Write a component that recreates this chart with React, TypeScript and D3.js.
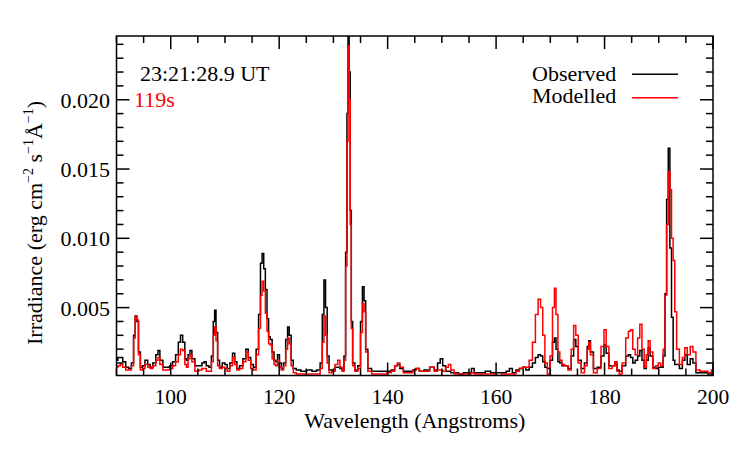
import React from "react";
import * as d3 from "d3";

// Wavelength grid (Angstroms) and irradiance values (erg cm^-2 s^-1 Å^-1)
const wavelength = [
  90.0, 90.5, 90.9, 91.4, 92.0, 92.5, 93.0, 93.3, 93.6, 93.9, 94.2, 94.6, 95.0, 95.5, 96.0, 96.4,
  97.0, 97.5, 97.8, 98.2, 98.9, 99.5, 100.1, 100.6, 101.2, 101.6, 102.0, 102.4, 102.8, 103.0, 103.4, 103.7,
  104.1, 104.8, 105.5, 106.0, 106.3, 106.8, 107.3, 107.7, 108.0, 108.2, 108.5, 108.8, 109.2, 109.8, 110.2, 110.6,
  111.2, 111.6, 112.0, 112.4, 113.0, 113.6, 114.1, 114.5, 115.0, 115.5, 116.0, 116.4, 116.7, 117.0, 117.3, 117.6,
  117.9, 118.2, 118.5, 118.9, 119.2, 119.5, 119.9, 120.2, 120.6, 121.0, 121.4, 121.7, 122.0, 122.4, 122.8, 123.5,
  124.5, 125.6, 126.5, 127.3, 127.8, 128.1, 128.4, 128.7, 129.0, 129.4, 130.0, 130.6, 131.0, 131.4, 131.8, 132.1,
  132.4, 132.6, 132.8, 133.0, 133.2, 133.4, 133.7, 134.2, 134.8, 135.2, 135.5, 135.8, 136.1, 136.6, 137.5, 138.5,
  139.5, 140.3, 141.0, 141.6, 142.0, 142.5, 143.3, 144.3, 145.0, 145.5, 146.2, 147.2, 148.3, 148.9, 149.5, 149.9,
  150.4, 151.0, 151.4, 151.9, 152.6, 153.5, 154.5, 155.2, 155.7, 156.2, 157.5, 158.5, 159.5, 160.6, 161.5, 162.2,
  162.7, 163.3, 164.0, 164.6, 165.2, 165.8, 166.4, 167.0, 167.5, 168.0, 168.4, 168.8, 169.2, 169.7, 170.2, 170.6,
  170.9, 171.2, 171.6, 171.9, 172.4, 172.9, 173.6, 174.1, 174.5, 174.9, 175.4, 176.0, 176.6, 177.0, 177.2, 177.6,
  178.3, 179.0, 179.7, 180.1, 180.5, 181.1, 181.7, 182.1, 182.5, 182.9, 183.6, 184.2, 184.6, 185.0, 185.4, 185.9,
  186.3, 186.7, 187.1, 187.5, 187.9, 188.2, 188.6, 189.2, 189.7, 190.1, 190.6, 191.0, 191.3, 191.6, 191.9, 192.2,
  192.5, 192.8, 193.1, 193.5, 194.1, 194.6, 195.0, 195.5, 196.1, 196.5, 197.2, 198.0, 198.7, 199.4, 200.0,
];

const observed = [
  0.0012, 0.0014, 0.0014, 0.0011, 0.0007, 0.0006, 0.0010, 0.0030, 0.0044, 0.0040, 0.0018, 0.0007, 0.0008, 0.0012, 0.0009, 0.0007,
  0.0010, 0.0016, 0.0019, 0.0012, 0.0007, 0.0007, 0.0008, 0.0011, 0.0016, 0.0025, 0.0030, 0.0025, 0.0013, 0.0012, 0.0016, 0.0019,
  0.0013, 0.0008, 0.0008, 0.0010, 0.0011, 0.0008, 0.0007, 0.0015, 0.0040, 0.0048, 0.0032, 0.0012, 0.0007, 0.0010, 0.0009, 0.0006,
  0.0010, 0.0017, 0.0011, 0.0006, 0.0008, 0.0013, 0.0020, 0.0014, 0.0009, 0.0007, 0.0020, 0.0045, 0.0082, 0.0089, 0.0078, 0.0063,
  0.0042, 0.0029, 0.0027, 0.0018, 0.0012, 0.0011, 0.0016, 0.0010, 0.0006, 0.0010, 0.0027, 0.0036, 0.0030, 0.0012, 0.0006, 0.0005,
  0.0004, 0.0005, 0.0004, 0.0005, 0.0010, 0.0045, 0.0070, 0.0050, 0.0015, 0.0005, 0.0005, 0.0007, 0.0007, 0.0006, 0.0005, 0.0015,
  0.0090, 0.0190, 0.0280, 0.0220, 0.0120, 0.0040, 0.0010, 0.0005, 0.0008, 0.0040, 0.0065, 0.0055, 0.0020, 0.0006, 0.0004, 0.0004,
  0.0004, 0.0004, 0.0005, 0.0008, 0.0009, 0.0006, 0.0004, 0.0004, 0.0005, 0.0006, 0.0004, 0.0005, 0.0007, 0.0005, 0.0010, 0.0013,
  0.0008, 0.0004, 0.0004, 0.0003, 0.0003, 0.0002, 0.0003, 0.0003, 0.0006, 0.0003, 0.0003, 0.0004, 0.0003, 0.0003, 0.0003, 0.0004,
  0.0006, 0.0003, 0.0005, 0.0006, 0.0007, 0.0005, 0.0007, 0.0010, 0.0014, 0.0016, 0.0015, 0.0011, 0.0007, 0.0006, 0.0012, 0.0025,
  0.0028, 0.0020, 0.0011, 0.0010, 0.0008, 0.0008, 0.0006, 0.0015, 0.0027, 0.0022, 0.0012, 0.0006, 0.0010, 0.0022, 0.0026, 0.0018,
  0.0006, 0.0007, 0.0015, 0.0023, 0.0017, 0.0008, 0.0008, 0.0010, 0.0005, 0.0004, 0.0008, 0.0015, 0.0016, 0.0014, 0.0010, 0.0012,
  0.0015, 0.0019, 0.0012, 0.0006, 0.0012, 0.0021, 0.0015, 0.0007, 0.0006, 0.0007, 0.0007, 0.0015, 0.0060, 0.0128, 0.0165, 0.0093,
  0.0043, 0.0012, 0.0009, 0.0009, 0.0006, 0.0012, 0.0016, 0.0009, 0.0013, 0.0010, 0.0003, 0.0003, 0.0003, 0.0002, 0.0003,
];

const modelled = [
  0.0007, 0.0008, 0.0009, 0.0007, 0.0005, 0.0005, 0.0008, 0.0028, 0.0044, 0.0041, 0.0016, 0.0005, 0.0006, 0.0009, 0.0007, 0.0006,
  0.0008, 0.0012, 0.0014, 0.0009, 0.0005, 0.0005, 0.0006, 0.0008, 0.0011, 0.0016, 0.0020, 0.0019, 0.0009, 0.0007, 0.0013, 0.0016,
  0.0011, 0.0004, 0.0005, 0.0006, 0.0006, 0.0004, 0.0004, 0.0011, 0.0030, 0.0036, 0.0026, 0.0008, 0.0006, 0.0007, 0.0006, 0.0004,
  0.0008, 0.0014, 0.0009, 0.0005, 0.0006, 0.0011, 0.0018, 0.0012, 0.0006, 0.0005, 0.0016, 0.0035, 0.0059, 0.0069, 0.0062, 0.0046,
  0.0033, 0.0024, 0.0023, 0.0013, 0.0009, 0.0008, 0.0012, 0.0007, 0.0005, 0.0008, 0.0020, 0.0028, 0.0024, 0.0008, 0.0003, 0.0002,
  0.0002, 0.0002, 0.0002, 0.0002, 0.0006, 0.0025, 0.0044, 0.0030, 0.0010, 0.0003, 0.0004, 0.0009, 0.0012, 0.0007, 0.0004, 0.0012,
  0.0080, 0.0170, 0.0239, 0.0200, 0.0110, 0.0035, 0.0008, 0.0004, 0.0006, 0.0032, 0.0053, 0.0047, 0.0018, 0.0004, 0.0002, 0.0002,
  0.0002, 0.0003, 0.0004, 0.0008, 0.0010, 0.0007, 0.0003, 0.0003, 0.0005, 0.0006, 0.0004, 0.0004, 0.0007, 0.0004, 0.0005, 0.0005,
  0.0004, 0.0007, 0.0009, 0.0005, 0.0002, 0.0002, 0.0002, 0.0002, 0.0003, 0.0002, 0.0002, 0.0002, 0.0002, 0.0001, 0.0002, 0.0002,
  0.0002, 0.0002, 0.0004, 0.0006, 0.0007, 0.0007, 0.0012, 0.0025, 0.0045, 0.0056, 0.0050, 0.0030, 0.0010, 0.0002, 0.0015, 0.0050,
  0.0064, 0.0045, 0.0018, 0.0012, 0.0009, 0.0008, 0.0005, 0.0020, 0.0037, 0.0030, 0.0010, 0.0003, 0.0008, 0.0020, 0.0025, 0.0016,
  0.0003, 0.0006, 0.0022, 0.0034, 0.0022, 0.0006, 0.0008, 0.0011, 0.0004, 0.0002, 0.0010, 0.0028, 0.0033, 0.0034, 0.0020, 0.0016,
  0.0028, 0.0038, 0.0020, 0.0007, 0.0016, 0.0026, 0.0018, 0.0006, 0.0008, 0.0010, 0.0008, 0.0020, 0.0059, 0.0110, 0.0148, 0.0135,
  0.0100, 0.0084, 0.0047, 0.0020, 0.0009, 0.0014, 0.0021, 0.0016, 0.0022, 0.0018, 0.0005, 0.0004, 0.0004, 0.0003, 0.0005,
];

const xMajorTicks = [100, 120, 140, 160, 180, 200];
const yMajorTicks = [0.005, 0.01, 0.015, 0.02];
const seriesNames = ["Observed", "Modelled"];
const seriesColors = ["#000000", "#ff0000"];
const timeLabel = "23:21:28.9 UT";
const durationLabel = "119s";

const W = 747;
const H = 449;
const L = 116.5, R = 713, T = 36, B = 375.5;
const FONT = "'Liberation Serif', 'Times New Roman', Times, serif";

export default function App() {
  const x = d3.scaleLinear().domain([90, 200]).range([L, R]);
  const y = d3.scaleLinear().domain([0.0001, 0.0246]).range([B, T]);

  const xMinor = d3.range(90, 200.01, 5).filter((v) => !xMajorTicks.includes(v));
  const yMinor = d3.range(1, 25).map((i) => i * 0.001).filter((v) => y(v) > T + 1 && Math.abs(v * 200 - Math.round(v * 200)) > 1e-6);

  const line = d3
    .line<number>()
    .x((_, i) => x(wavelength[i]))
    .y((d) => y(d))
    .curve(d3.curveStep);

  const series = [observed, modelled];
  const fmt = d3.format(".3f");
  const MAJ = 13, MIN = 7;

  return (
    <svg
      width={W}
      height={H}
      style={{ position: "absolute", left: 0, top: 0, background: "#fff" }}
      fontFamily={FONT}
    >
      <rect x={0} y={0} width={W} height={H} fill="#fff" />
      <defs>
        <clipPath id="plotclip">
          <rect x={L} y={T} width={R - L} height={B - T} />
        </clipPath>
      </defs>

      <g clipPath="url(#plotclip)">
        {series.map((s, k) => (
          <path key={k} d={line(s) || ""} fill="none" stroke={seriesColors[k]} strokeWidth={1.5} strokeLinejoin="miter" />
        ))}
      </g>

      {/* frame */}
      <rect x={L} y={T} width={R - L} height={B - T} fill="none" stroke="#000" strokeWidth={1.5} />

      {/* x ticks */}
      {xMajorTicks.map((v) => (
        <g key={"xm" + v}>
          <line x1={x(v)} x2={x(v)} y1={B} y2={B - MAJ} stroke="#000" strokeWidth={1.5} />
          <line x1={x(v)} x2={x(v)} y1={T} y2={T + MAJ} stroke="#000" strokeWidth={1.5} />
          <text x={x(v)} y={403.5} textAnchor="middle" fontSize={21.5}>
            {v}
          </text>
        </g>
      ))}
      {xMinor.map((v) => (
        <g key={"xn" + v}>
          <line x1={x(v)} x2={x(v)} y1={B} y2={B - MIN} stroke="#000" strokeWidth={1.5} />
          <line x1={x(v)} x2={x(v)} y1={T} y2={T + MIN} stroke="#000" strokeWidth={1.5} />
        </g>
      ))}

      {/* y ticks */}
      {yMajorTicks.map((v) => (
        <g key={"ym" + v}>
          <line x1={L} x2={L + MAJ} y1={y(v)} y2={y(v)} stroke="#000" strokeWidth={1.5} />
          <line x1={R} x2={R - MAJ} y1={y(v)} y2={y(v)} stroke="#000" strokeWidth={1.5} />
          <text x={110} y={y(v) + 8} textAnchor="end" fontSize={22}>
            {fmt(v)}
          </text>
        </g>
      ))}
      {yMinor.map((v) => (
        <g key={"yn" + v}>
          <line x1={L} x2={L + MIN} y1={y(v)} y2={y(v)} stroke="#000" strokeWidth={1.5} />
          <line x1={R} x2={R - MIN} y1={y(v)} y2={y(v)} stroke="#000" strokeWidth={1.5} />
        </g>
      ))}

      {/* axis titles */}
      <text x={(L + R) / 2} y={428} textAnchor="middle" fontSize={22}>
        Wavelength (Angstroms)
      </text>
      <text transform="translate(42,223) rotate(-90)" textAnchor="middle" fontSize={22}>
        Irradiance (erg cm
        <tspan fontSize={14} dy={-9}>−2</tspan>
        <tspan dy={9}> s</tspan>
        <tspan fontSize={14} dy={-9}>−1</tspan>
        <tspan dy={9}>Å</tspan>
        <tspan fontSize={14} dy={-9}>−1</tspan>
        <tspan dy={9}>)</tspan>
      </text>

      {/* annotations */}
      <text x={140} y={80.7} fontSize={22} fill="#000">
        {timeLabel}
      </text>
      <text x={134} y={107} fontSize={22} fill="#ff0000">
        {durationLabel}
      </text>

      {/* legend */}
      {seriesNames.map((name, k) => (
        <g key={name}>
          <text x={532} y={80.7 + k * 22.5} fontSize={22}>
            {name}
          </text>
          <line x1={632} x2={678} y1={74.3 + k * 23.4} y2={74.3 + k * 23.4} stroke={seriesColors[k]} strokeWidth={1.5} />
        </g>
      ))}
    </svg>
  );
}
